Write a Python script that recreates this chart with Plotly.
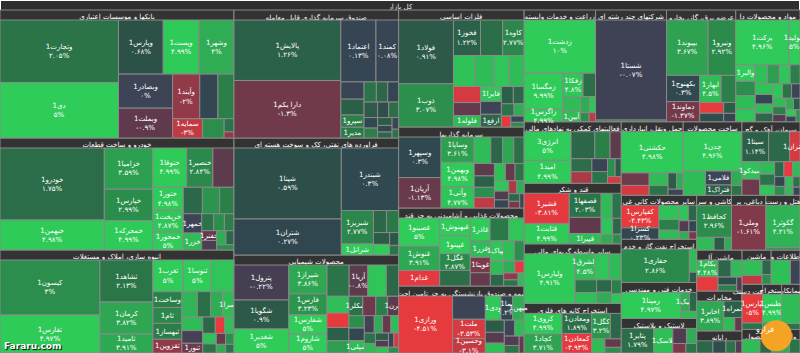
import numpy as np
import plotly.graph_objects as go

ROOT = "کل بازار"

# (name, relative weight inside its sector, daily change %)
banks = [("وتجارت1", 7434, 2.05), ("دی1", 6608, 5.0), ("وپارس1", 2430, 0.68), ("وپست1", 1944, 4.99),
         ("وشهر1", 1900, 4.0), ("وبصادر1", 1850, 0.0), ("وبملت1", 1620, -0.9), ("وآیند1", 1215, -2.0),
         ("", 810, 0.2), ("", 720, 2.5), ("سمایه1", 580, -3.0), ("", 420, 3.0), ("", 130, 2.0), ("", 60, -2.0)]
autos = [("خودرو1", 7416, 1.75), ("خبهمن1", 3090, 4.98), ("خزامیا1", 1974, 3.59), ("خپارس1", 1504, 2.99),
         ("خمحرکه1", 1404, 4.99), ("ختوقا1", 1316, 4.99), ("خنصیر1", 1014, 2.84), ("", 819, -0.8),
         ("ختور1", 690, 4.98), ("خریخت1", 660, 4.87), ("خمحور1", 540, 5.0), ("", 500, 1.5), ("", 450, 3.2),
         ("", 375, 2.5), ("خمهر1", 352, 0.0), ("خزر1", 308, 4.5), ("", 200, 2.0), ("", 180, 3.0),
         ("", 160, 2.5), ("خفنر1", 144, -1.0), ("", 140, -0.3), ("", 130, 4.0), ("", 110, 1.5), ("", 90, 3.0)]
construction = [("کیسون1", 5390, 3.0), ("ثفارس1", 3724, 4.97), ("ثشاهد1", 2184, 2.13), ("کرمان1", 1664, 3.82),
                ("ثامید1", 988, 3.91), ("ثغرب1", 945, 5.0), ("ثنوسا1", 875, 5.0), ("", 700, 4.8),
                ("وساخت1", 450, 2.5), ("ثام1", 450, 2.8), ("ثبهساز1", 450, 2.4), ("ثقزوین1", 390, -2.0),
                ("", 385, 4.3), ("", 330, 1.8), ("", 300, 4.0), ("ثسرا1", 280, 4.5), ("", 280, 4.5),
                ("", 260, -0.2), ("ثنور1", 200, -1.2), ("", 200, 1.5), ("", 150, -4.5), ("", 150, 4.6),
                ("", 140, 4.7), ("", 120, 2.0), ("", 100, -1.0), ("", 90, 3.0), ("", 80, 4.0), ("", 70, 2.0)]
etf = [("پالایش1", 6771, 1.26), ("دارا یکم1", 6438, -1.3), ("اعتماد1", 2279, 0.13), ("کمند1", 1470, 0.08),
       ("", 420, 0.1), ("", 385, 1.2), ("سپرو1", 300, 2.5), ("مدیر1", 260, 2.3), ("", 260, 2.0),
       ("", 240, 1.5), ("", 230, 0.2), ("", 220, 1.0), ("", 180, 0.5), ("", 160, 1.8), ("", 150, 0.3),
       ("", 140, 2.5), ("", 120, 1.0), ("", 100, 0.2), ("", 90, 1.5), ("", 80, 0.0), ("", 60, 2.0)]
refinery = [("شپنا1", 7957, 0.59), ("شتران1", 4033, 0.27), ("شبندر1", 3740, 0.3), ("شبریز1", 1120, 2.77),
            ("شرانل1", 370, 5.0), ("", 300, 1.5), ("", 280, 2.2), ("", 200, 1.0), ("", 180, 5.0),
            ("", 120, 0.8), ("", 90, 2.0)]
chemicals = [("پترول1", 1995, -0.22), ("شگویا1", 1653, 0.9), ("شغدیر1", 1368, 5.0), ("شیراز1", 1140, 3.86),
             ("فارس1", 836, 3.23), ("شفارس1", 760, 5.0), ("شاروم1", 750, 5.0), ("", 720, 2.0),
             ("آریا1", 608, -0.8), ("", 600, 4.8), ("", 400, 1.5), ("", 380, 4.6), ("", 330, -4.8),
             ("", 300, 1.2), ("", 280, 3.5), ("شکلر1", 280, 2.0), ("", 260, -1.2), ("", 240, 2.5),
             ("قرن1", 220, -0.8), ("", 200, 3.0), ("", 200, 0.2), ("شپلی1", 200, 4.5), ("", 180, -0.2),
             ("", 150, 4.0), ("", 150, -1.0), ("", 140, 4.5), ("", 120, 2.0), ("", 110, 4.5),
             ("", 100, 1.0), ("", 90, -0.5), ("", 80, 4.8), ("", 80, 0.0), ("", 70, -3.5), ("", 60, 3.0)]
metals = [("فولاد1", 3380, 0.91), ("ذوب1", 2288, 3.07), ("فخوز1", 928, 1.22), ("", 760, 1.8),
          ("کاوه1", 736, 2.77), ("", 640, 4.7), ("", 576, 4.5), ("", 450, 4.8), ("", 450, 4.5),
          ("", 420, -3.5), ("", 340, -1.0), ("فلوله1", 300, 4.5), ("فایرا1", 300, 4.8), ("", 260, 0.0),
          ("ارفع1", 255, 1.5), ("", 200, 1.2), ("", 180, 1.5), ("", 150, 2.0), ("", 120, 4.0),
          ("", 100, -4.0), ("", 80, 0.0), ("", 60, 3.0)]
investments = [("وسپهر1", 1640, 0.3), ("آریان1", 1230, -1.13), ("وساپا1", 800, 3.61), ("وبهمن1", 768, 4.98),
               ("وآتی1", 672, 4.77), ("", 420, 4.5), ("", 300, 1.5), ("", 280, 3.8), ("", 260, 1.8),
               ("", 240, -0.8), ("", 220, 1.2), ("", 200, 3.0), ("", 200, -3.0), ("", 180, 4.6),
               ("", 160, -1.0), ("", 150, 2.0), ("", 140, 4.8), ("", 120, -0.5), ("", 110, 0.2),
               ("", 100, -2.5), ("", 90, 4.0), ("", 80, 1.5), ("", 70, -1.5), ("", 60, 0.0)]
food = [("غصینو1", 1044, 5.0), ("غنوش1", 900, 3.91), ("غدام1", 576, -4.0), ("غبهنوش1", 493, 5.0),
        ("غپینو1", 493, 5.0), ("غگل1", 464, 2.87), ("", 430, 1.8), ("غاذر1", 406, 5.0), ("", 380, 2.2),
        ("", 320, 4.8), ("غزر1", 300, 4.5), ("غویتا1", 280, -1.5), ("", 240, -1.0), ("بهپاک1", 240, 4.8),
        ("", 200, 4.6), ("", 180, 3.0), ("", 160, 4.5), ("", 140, 1.5), ("", 120, 4.0), ("", 100, -4.0),
        ("", 90, -2.0), ("", 80, 2.0), ("", 70, 4.5)]
insurance = [("ورازی1", 3304, -4.51), ("", 820, 0.0), ("ملت1", 675, -3.53), ("وحسین1", 513, -3.1),
             ("ودی1", 405, 4.9), ("بما1", 300, 0.2), ("میهن1", 300, 4.0), ("", 250, 1.0), ("", 220, -0.6),
             ("", 200, 4.6), ("", 180, 0.0), ("", 160, 4.5), ("", 150, -0.5), ("", 120, 2.0), ("", 90, -1.0)]
agri = [("زدشت1", 3905, 10.0), ("زمگسا1", 1440, 9.99), ("زاگرس1", 500, 4.99), ("زفکا1", 475, 4.8),
        ("", 300, 1.8), ("", 250, 4.5), ("آبین1", 200, 4.5), ("", 150, 4.0), ("", 100, 4.8),
        ("", 80, 3.0), ("", 60, -3.0)]
multi = [("شستا1", 7300, -0.07), ("", 120, 2.0)]
power = [("بپیوند1", 2268, 3.67), ("ونیرو1", 1512, 2.92), ("بکهنوج1", 858, 0.3), ("دماوند1", 660, -1.37),
         ("ابهار1", 572, 4.5), ("", 390, 2.5), ("", 256, -4.5), ("", 200, 0.5), ("", 130, 1.0), ("", 100, 0.2)]
pharma = [("برکت1", 2535, 4.96), ("دتولید1", 529, 5.0), ("والبر1", 345, 5.0), ("", 300, 3.0), ("", 280, 4.5),
          ("", 260, 4.8), ("", 250, 4.6), ("", 240, 3.5), ("", 220, 4.8), ("", 200, 2.5), ("", 200, 4.7),
          ("", 180, 0.2), ("", 170, 4.5), ("", 160, 1.5), ("", 150, 4.8), ("", 140, 2.0), ("", 130, 0.0),
          ("", 120, 4.5), ("", 110, 2.5), ("", 100, -0.5), ("", 90, 4.0), ("", 80, 1.0), ("", 70, 4.9),
          ("", 60, 0.3), ("", 50, 3.0)]
fin_aux = [("انرژی3", 1470, 5.0), ("امید1", 1176, 4.99), ("", 700, 1.5), ("", 450, 2.5), ("", 330, -0.8),
           ("", 300, 1.8), ("", 260, -2.5), ("", 220, 0.1), ("", 200, 2.0), ("", 150, 3.0), ("", 120, 1.0),
           ("", 100, -3.5)]
sugar = [("قشیر1", 1504, -3.81), ("قثابت1", 987, 4.99), ("قصفها1", 840, 2.03), ("", 560, -0.9),
         ("قپیرا1", 360, 4.6), ("", 300, 4.5), ("", 250, 2.0), ("", 200, 4.8), ("", 150, 1.5),
         ("", 120, 4.0), ("", 90, 3.0)]
fin_other = [("ولپارس1", 2744, 4.91), ("ولشرق1", 552, 4.5), ("", 400, 4.8), ("", 350, 4.5), ("", 300, 2.0),
             ("", 250, 4.6), ("", 200, 1.5), ("", 180, 4.0), ("", 150, 2.5), ("", 100, 4.8)]
metal_mining = [("کروی1", 840, 4.99), ("کچاد1", 782, 3.71), ("ومعادن1", 646, 1.89), ("کمعادن1", 630, -3.93),
                ("کگل1", 513, 3.2), ("", 300, 1.5), ("", 200, 4.5), ("", 150, -1.0), ("", 100, 3.0)]
transport = [("حکشتی1", 2790, 4.98), ("", 380, -1.2), ("", 300, -3.5), ("", 260, 4.5), ("", 200, 2.0),
             ("", 150, 1.0), ("", 120, 4.0), ("", 100, 0.0)]
metal_products = [("چدن1", 2256, 4.96), ("", 528, 4.5), ("فلامی1", 351, 0.0), ("فتراک1", 260, 1.2),
                  ("", 150, 4.0), ("", 100, 2.0)]
cement = [("سیتا1", 868, 1.14), ("", 682, 1.6), ("ستران1", 336, -3.5), ("سیدکو1", 336, 4.7), ("", 310, -1.2),
          ("", 200, 4.5), ("", 180, 2.0), ("", 160, 4.8), ("", 150, 1.5), ("", 140, -3.8), ("", 120, 4.5),
          ("", 110, 0.2), ("", 100, 3.0), ("", 90, 4.6), ("", 80, 2.0), ("", 70, 4.5), ("", 60, 0.0)]
minerals = [("کفپارس1", 1184, -4.43), ("کسرا1", 592, 0.23), ("", 400, 4.7), ("", 300, 2.5), ("", 250, 4.5),
            ("", 200, 4.8), ("", 180, 1.5), ("", 150, -0.5), ("", 120, 0.2), ("", 100, 4.0), ("", 80, -1.5)]
tiles = [("کحافظ1", 1260, 2.96), ("", 250, 4.5), ("", 150, 1.0), ("", 100, 4.0)]
leather = [("وملی1", 1419, -1.61)]
hotel = [("گکوثر1", 1505, 4.21), ("", 80, 3.0)]
oil_gas = [("حفاری1", 2412, 2.86), ("", 180, 4.5), ("", 80, 1.0)]
engineering = [("رمپنا1", 1368, 4.97), ("رتیک1", 150, 4.0), ("", 120, 1.5), ("", 100, 4.5)]
rubber = [("پتایر1", 777, 1.79), ("پلاسک1", 455, 4.6), ("", 200, -0.5), ("", 150, 4.0), ("", 120, -1.5),
          ("", 100, 2.0)]
elec_machinery = [("بکام1", 480, 4.48), ("", 408, -4.6), ("", 300, 1.5), ("", 250, 4.5), ("", 200, 0.5),
                  ("", 150, 2.5), ("", 100, -0.5)]
telecom = [("اخابر1", 837, 3.89), ("همراه1", 310, 1.2), ("", 150, 4.5), ("", 100, -1.0)]
computer = [("", 250, 1.5), ("", 200, 0.5), ("", 150, 2.0), ("", 100, -0.5)]
machinery = [("", 350, 4.6), ("", 200, -3.0), ("", 150, 1.5), ("", 100, 3.0)]
info_comm = [("", 300, 4.6), ("", 150, 0.0)]
coal = [("کطبس1", 600, 4.99), ("", 150, 4.0)]
wood = [("", 300, 4.5), ("", 200, 1.5)]
fin_mid = [("", 250, 4.0), ("", 150, 2.0)]
devices = [("لپارس1", 450, -5.0), ("", 100, 2.0)]
contracting = [("", 500, 4.5), ("", 100, 2.0)]

# stocks whose tile shows only the symbol (no percentage) in the map
name_only = {"خمهر1", "خزر1", "خفنر1", "وساخت1", "ثام1", "ثبهساز1", "ثقزوین1", "ثسرا1", "ثنور1",
             "سپرو1", "مدیر1", "شرانل1", "شکلر1", "قرن1", "شپلی1", "فلوله1", "فایرا1", "ارفع1",
             "غدام1", "غاذر1", "غبهنوش1", "غپینو1", "غزر1", "غویتا1", "بهپاک1", "ودی1", "میهن1",
             "آبین1", "والبر1", "قپیرا1", "فلامی1", "فتراک1", "ستران1", "سیدکو1", "رتیک1", "پلاسک1",
             "همراه1"}

# sector name (as shown), sector total size, stocks
sector_names = [
    "بانکها و موسسات اعتباری", "خودرو و ساخت قطعات", "انبوه سازی، املاک و مستغلات",
    "صندوق سرمایه گذاری قابل معامله", "فراورده های نفتی، کک و سوخت هسته ای", "محصولات شیمیایی",
    "فلزات اساسی", "سرمایه گذاریها", "محصولات غذایی و آشامیدنی به جز قند",
    "بیمه و صندوق بازنشستگی به جز تامین اجت", "زراعت و خدمات وابسته", "شرکتهای چند رشته ای",
    "عرضه برق، گاز، بخارو", "مواد و محصولات دا", "فعالیتهای کمکی به نهادهای مالی", "قند و شکر",
    "سایر واسطه گریهای مالی", "استخراج کانه های فلزی", "حمل ونقل، انبارداری", "ساخت محصولات",
    "سیمان، آهک و گچ", "سایر محصولات کانی غی", "استخراج نفت گاز و خدم", "خدمات فنی و مهندسی",
    "لاستیک و پلاستیک", "کاشی و سر", "دباغی، پر", "هتل و رست", "ماشین آل", "مخابرات", "رایانه",
    "ماشین", "اطلاعات و", "ساخت دستگ", "استخراج", "پیمانکار", "محصول", "واسطه",
]
sector_sizes = [29824, 26096, 24000, 20990, 19190, 16070, 14625, 10125, 9750, 8375, 7950, 7900,
                7700, 7150, 5950, 5860, 5760, 4800, 4536, 4300, 4250, 3300, 3250, 2700, 2600,
                1900, 1880, 1860, 1850, 1800, 1000, 990, 980, 930, 850, 830, 700, 660]
sector_stocks = [banks, autos, construction, etf, refinery, chemicals, metals, investments, food,
                 insurance, agri, multi, power, pharma, fin_aux, sugar, fin_other, metal_mining,
                 transport, metal_products, cement, minerals, oil_gas, engineering, rubber, tiles,
                 leather, hotel, elec_machinery, telecom, computer, machinery, info_comm, devices,
                 coal, contracting, wood, fin_mid]

# colour scale: change % -> tile colour
SCALE_P = [-5, -3.8, -3, -2, -1, -0.3, 0, 0.3, 0.6, 1, 2, 3, 4, 5]
SCALE_C = [(232, 58, 60), (228, 58, 64), (192, 58, 68), (146, 58, 72), (100, 58, 76), (74, 62, 82),
           (60, 68, 86), (48, 72, 80), (45, 80, 73), (44, 92, 72), (43, 115, 72), (44, 142, 76),
           (47, 172, 84), (48, 204, 90)]
SC = np.array(SCALE_C, dtype=float)


def pct_color(p):
    r, g, b = (np.interp(p, SCALE_P, SC[:, k]) for k in range(3))
    return f"rgb({int(r)},{int(g)},{int(b)})"


FA = str.maketrans("0123456789", "۰۱۲۳۴۵۶۷۸۹")


def pct_text(p):
    s = f"{abs(p):.2f}".rstrip("0").rstrip(".")
    return ("-" if p < 0 else "") + s.translate(FA) + "%"


ids, labels, parents, values, texts, colors = [], [], [], [], [], []
ids.append("root"); labels.append(ROOT); parents.append(""); values.append(0)
texts.append(ROOT); colors.append("#2e2e2e")
for i, (sname, ssize, rows) in enumerate(zip(sector_names, sector_sizes, sector_stocks)):
    sid = f"s{i}"
    ids.append(sid); labels.append(sname); parents.append("root"); values.append(0)
    texts.append(sname); colors.append("#333333")
    wsum = sum(r[1] for r in rows)
    for j, (name, w, p) in enumerate(rows):
        lid = f"{sid}_{j}"
        ids.append(lid); labels.append(name if name else lid); parents.append(sid)
        values.append(w * ssize / wsum)
        if not name:
            texts.append("")
        elif name in name_only:
            texts.append(name)
        else:
            texts.append(f"{name}<br>{pct_text(p)}")
        colors.append(pct_color(p))

fig = go.Figure(go.Treemap(
    ids=ids, labels=labels, parents=parents, values=values,
    branchvalues="remainder", sort=True,
    text=texts, textinfo="text", textposition="middle center",
    marker=dict(colors=colors, line=dict(color="#8a8a8a", width=1),
                pad=dict(t=10, l=0, r=0, b=0)),
    tiling=dict(packing="squarify", squarifyratio=1.618034, pad=0),
    pathbar=dict(visible=False),
    textfont=dict(family="DejaVu Sans", size=8, color="#ffffff"),
    insidetextfont=dict(family="DejaVu Sans", size=8, color="#ffffff"),
    outsidetextfont=dict(family="DejaVu Sans", size=8, color="#e6e6e6"),
    hoverinfo="skip",
))

fig.add_shape(type="circle", xref="paper", yref="paper", x0=0.951, x1=0.99, y0=0.005, y1=0.093,
              fillcolor="#f4a325", line=dict(color="#f4a325", width=0))
fig.add_annotation(x=0.9705, y=0.049, xref="paper", yref="paper", text="فرارو", showarrow=False,
                   font=dict(family="DejaVu Sans", size=8, color="#ffffff"))
fig.add_annotation(x=0.002, y=0.0, xref="paper", yref="paper", xanchor="left", yanchor="bottom",
                   text="<b>Fararu.com</b>", showarrow=False,
                   font=dict(family="DejaVu Sans", size=9, color="#ffffff", shadow="1px 1px 1px #000"))

fig.update_layout(width=800, height=353, margin=dict(l=0, r=0, t=0, b=0),
                  paper_bgcolor="#2e2e2e",
                  uniformtext=dict(minsize=7, mode="show"),
                  font=dict(family="DejaVu Sans", size=8, color="#ffffff"))

fig.write_html("out.html")
